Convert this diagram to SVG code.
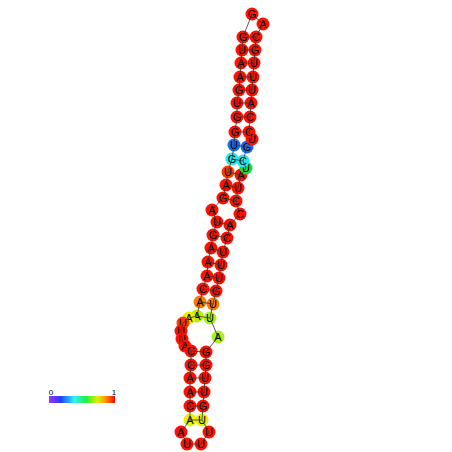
<svg xmlns="http://www.w3.org/2000/svg" width="452" height="452" viewBox="0 0 452 452">
<style>
circle{stroke:none}
.r{fill:#ff1000}.b{fill:#1a6cf0}.c{fill:#22e6f0}.g{fill:#10e040}.o{fill:#ff7a00}.yg{fill:#b8f000}.y{fill:#e8f000}.ro{fill:#ff3a00}.lg{fill:#a8f020}
text{font-family:"Liberation Sans",Arial,sans-serif;font-size:11px;text-anchor:middle;dominant-baseline:central;fill:#000}
.lk line{stroke:#333;stroke-width:0.8}
.lb{font-size:8px}
</style>
<defs>
<linearGradient id="sc" x1="0" x2="1" y1="0" y2="0">
<stop offset="0" stop-color="#a030ff"/>
<stop offset="0.18" stop-color="#2040ff"/>
<stop offset="0.38" stop-color="#30f0ff"/>
<stop offset="0.56" stop-color="#20f040"/>
<stop offset="0.74" stop-color="#e0f000"/>
<stop offset="0.86" stop-color="#ff9000"/>
<stop offset="1" stop-color="#ff0000"/>
</linearGradient>
</defs>
<g id="n1"><circle class="r" cx="243" cy="37" r="6.5"/><text x="243" y="37">G</text></g>
<g id="n2"><circle class="r" cx="242" cy="50" r="6.5"/><text x="242" y="50">U</text></g>
<g id="n3"><circle class="r" cx="241" cy="63" r="6.5"/><text x="241" y="63">A</text></g>
<g id="n4"><circle class="r" cx="240" cy="77" r="6.5"/><text x="240" y="77">A</text></g>
<g id="n5"><circle class="r" cx="239" cy="90" r="6.5"/><text x="239" y="90">G</text></g>
<g id="n6"><circle class="r" cx="237" cy="103" r="6.5"/><text x="237" y="103">U</text></g>
<g id="n7"><circle class="r" cx="237" cy="117" r="6.5"/><text x="237" y="117">G</text></g>
<g id="n8"><circle class="r" cx="235" cy="132" r="6.5"/><text x="235" y="132">G</text></g>
<g id="n9"><circle class="b" cx="234" cy="145" r="6.5"/><text x="234" y="145">U</text></g>
<g id="n10"><circle class="c" cx="232" cy="159" r="6.5"/><text x="232" y="159">G</text></g>
<g id="n11"><circle class="ro" cx="228" cy="172" r="6.5"/><text x="228" y="172">U</text></g>
<g id="n12"><circle class="r" cx="226" cy="185" r="6.5"/><text x="226" y="185">A</text></g>
<g id="n13"><circle class="r" cx="223" cy="198" r="6.5"/><text x="223" y="198">G</text></g>
<g id="n14"><circle class="r" cx="212" cy="210" r="6.5"/><text x="212" y="210">A</text></g>
<g id="n15"><circle class="r" cx="217" cy="222" r="6.5"/><text x="217" y="222">U</text></g>
<g id="n16"><circle class="r" cx="213" cy="235" r="6.5"/><text x="213" y="235">G</text></g>
<g id="n17"><circle class="r" cx="211" cy="248" r="6.5"/><text x="211" y="248">A</text></g>
<g id="n18"><circle class="r" cx="208" cy="262" r="6.5"/><text x="208" y="262">A</text></g>
<g id="n19"><circle class="r" cx="207" cy="276" r="6.5"/><text x="207" y="276">A</text></g>
<g id="n20"><circle class="r" cx="203" cy="289" r="6.5"/><text x="203" y="289">C</text></g>
<g id="n21"><circle class="o" cx="200" cy="302" r="6.5"/><text x="200" y="302">A</text></g>
<g id="n22"><circle class="yg" cx="197" cy="316" r="6.5"/><text x="197" y="316">A</text></g>
<g id="n23"><circle class="y" cx="189" cy="318" r="6.5"/><text x="189" y="318">A</text></g>
<g id="n24"><circle class="ro" cx="183" cy="323" r="6.5"/><text x="183" y="323">U</text></g>
<g id="n25"><circle class="r" cx="181" cy="331" r="6.5"/><text x="181" y="331">U</text></g>
<g id="n26"><circle class="r" cx="182" cy="339" r="6.5"/><text x="182" y="339">U</text></g>
<g id="n27"><circle class="r" cx="185" cy="346" r="6.5"/><text x="185" y="346">A</text></g>
<g id="n28"><circle class="r" cx="191" cy="351" r="6.5"/><text x="191" y="351">C</text></g>
<g id="n29"><circle class="r" cx="191" cy="365" r="6.5"/><text x="191" y="365">C</text></g>
<g id="n30"><circle class="r" cx="190" cy="378" r="6.5"/><text x="190" y="378">A</text></g>
<g id="n31"><circle class="r" cx="190" cy="392" r="6.5"/><text x="190" y="392">A</text></g>
<g id="n32"><circle class="r" cx="190" cy="406" r="6.5"/><text x="190" y="406">C</text></g>
<g id="n33"><circle class="y" cx="190" cy="420" r="6.5"/><text x="190" y="420">A</text></g>
<g id="n34"><circle class="r" cx="181" cy="432" r="6.5"/><text x="181" y="432">A</text></g>
<g id="n35"><circle class="r" cx="187" cy="444" r="6.5"/><text x="187" y="444">U</text></g>
<g id="n36"><circle class="r" cx="201" cy="444" r="6.5"/><text x="201" y="444">U</text></g>
<g id="n37"><circle class="r" cx="209" cy="432" r="6.5"/><text x="209" y="432">U</text></g>
<g id="n38"><circle class="y" cx="202" cy="420" r="6.5"/><text x="202" y="420">U</text></g>
<g id="n39"><circle class="r" cx="203" cy="406" r="6.5"/><text x="203" y="406">G</text></g>
<g id="n40"><circle class="r" cx="204" cy="392" r="6.5"/><text x="204" y="392">U</text></g>
<g id="n41"><circle class="r" cx="205" cy="378" r="6.5"/><text x="205" y="378">U</text></g>
<g id="n42"><circle class="r" cx="206" cy="365" r="6.5"/><text x="206" y="365">G</text></g>
<g id="n43"><circle class="r" cx="206" cy="352" r="6.5"/><text x="206" y="352">G</text></g>
<g id="n44"><circle class="lg" cx="218" cy="337" r="6.5"/><text x="218" y="337">A</text></g>
<g id="n45"><circle class="lg" cx="210" cy="318" r="6.5"/><text x="210" y="318">U</text></g>
<g id="n46"><circle class="o" cx="213" cy="304" r="6.5"/><text x="213" y="304">U</text></g>
<g id="n47"><circle class="r" cx="216" cy="291" r="6.5"/><text x="216" y="291">G</text></g>
<g id="n48"><circle class="r" cx="219" cy="278" r="6.5"/><text x="219" y="278">U</text></g>
<g id="n49"><circle class="r" cx="221" cy="265" r="6.5"/><text x="221" y="265">U</text></g>
<g id="n50"><circle class="r" cx="223" cy="252" r="6.5"/><text x="223" y="252">U</text></g>
<g id="n51"><circle class="r" cx="227" cy="238" r="6.5"/><text x="227" y="238">C</text></g>
<g id="n52"><circle class="r" cx="230" cy="225" r="6.5"/><text x="230" y="225">A</text></g>
<g id="n53"><circle class="r" cx="240" cy="214" r="6.5"/><text x="240" y="214">C</text></g>
<g id="n54"><circle class="r" cx="236" cy="201" r="6.5"/><text x="236" y="201">C</text></g>
<g id="n55"><circle class="r" cx="238" cy="188" r="6.5"/><text x="238" y="188">U</text></g>
<g id="n56"><circle class="r" cx="241" cy="175" r="6.5"/><text x="241" y="175">A</text></g>
<g id="n57"><circle class="g" cx="246" cy="168" r="6.5"/><text x="246" y="168">U</text></g>
<g id="n58"><circle class="c" cx="243" cy="161" r="6.5"/><text x="243" y="161">C</text></g>
<g id="n59"><circle class="b" cx="247" cy="147" r="6.5"/><text x="247" y="147">G</text></g>
<g id="n60"><circle class="r" cx="252" cy="139" r="6.5"/><text x="252" y="139">U</text></g>
<g id="n61"><circle class="r" cx="249" cy="132" r="6.5"/><text x="249" y="132">C</text></g>
<g id="n62"><circle class="r" cx="250" cy="117" r="6.5"/><text x="250" y="117">C</text></g>
<g id="n63"><circle class="r" cx="251" cy="103" r="6.5"/><text x="251" y="103">A</text></g>
<g id="n64"><circle class="r" cx="252" cy="90" r="6.5"/><text x="252" y="90">U</text></g>
<g id="n65"><circle class="r" cx="253" cy="77" r="6.5"/><text x="253" y="77">U</text></g>
<g id="n66"><circle class="r" cx="254" cy="63" r="6.5"/><text x="254" y="63">U</text></g>
<g id="n67"><circle class="r" cx="255" cy="50" r="6.5"/><text x="255" y="50">G</text></g>
<g id="n68"><circle class="r" cx="256" cy="37" r="6.5"/><text x="256" y="37">C</text></g>
<g id="n69"><circle class="r" cx="263" cy="24" r="6.5"/><text x="263" y="24">A</text></g>
<g id="n70"><circle class="r" cx="252" cy="14" r="6.5"/><text x="252" y="14">G</text></g>
<g id="connectors" class="lk">
<polyline fill="none" stroke="#333" stroke-width="0.8" points="243,37 242,50 241,63 240,77 239,90 237,103 237,117 235,132 234,145 232,159 228,172 226,185 223,198 212,210 217,222 213,235 211,248 208,262 207,276 203,289 200,302 197,316 189,318 183,323 181,331 182,339 185,346 191,351 191,365 190,378 190,392 190,406 190,420 181,432 187,444 201,444 209,432 202,420 203,406 204,392 205,378 206,365 206,352 218,337 210,318 213,304 216,291 219,278 221,265 223,252 227,238 230,225 240,214 236,201 238,188 241,175 246,168 243,161 247,147 252,139 249,132 250,117 251,103 252,90 253,77 254,63 255,50 256,37 263,24 252,14 243,37"/>
<line x1="243" y1="37" x2="256" y2="37"/>
<line x1="242" y1="50" x2="255" y2="50"/>
<line x1="241" y1="63" x2="254" y2="63"/>
<line x1="240" y1="77" x2="253" y2="77"/>
<line x1="239" y1="90" x2="252" y2="90"/>
<line x1="237" y1="103" x2="251" y2="103"/>
<line x1="237" y1="117" x2="250" y2="117"/>
<line x1="235" y1="132" x2="249" y2="132"/>
<line x1="234" y1="145" x2="247" y2="147"/>
<line x1="232" y1="159" x2="243" y2="161"/>
<line x1="228" y1="172" x2="241" y2="175"/>
<line x1="226" y1="185" x2="238" y2="188"/>
<line x1="223" y1="198" x2="236" y2="201"/>
<line x1="217" y1="222" x2="230" y2="225"/>
<line x1="213" y1="235" x2="227" y2="238"/>
<line x1="211" y1="248" x2="223" y2="252"/>
<line x1="208" y1="262" x2="221" y2="265"/>
<line x1="207" y1="276" x2="219" y2="278"/>
<line x1="203" y1="289" x2="216" y2="291"/>
<line x1="200" y1="302" x2="213" y2="304"/>
<line x1="197" y1="316" x2="210" y2="318"/>
<line x1="191" y1="351" x2="206" y2="352"/>
<line x1="191" y1="365" x2="206" y2="365"/>
<line x1="190" y1="378" x2="205" y2="378"/>
<line x1="190" y1="392" x2="204" y2="392"/>
<line x1="190" y1="406" x2="203" y2="406"/>
<line x1="190" y1="420" x2="202" y2="420"/>
</g>
<g id="legend">
<rect x="49" y="396" width="66" height="7" fill="url(#sc)"/>
<text class="lb" x="51" y="392">0</text>
<text class="lb" x="114" y="392">1</text>
</g>
</svg>
